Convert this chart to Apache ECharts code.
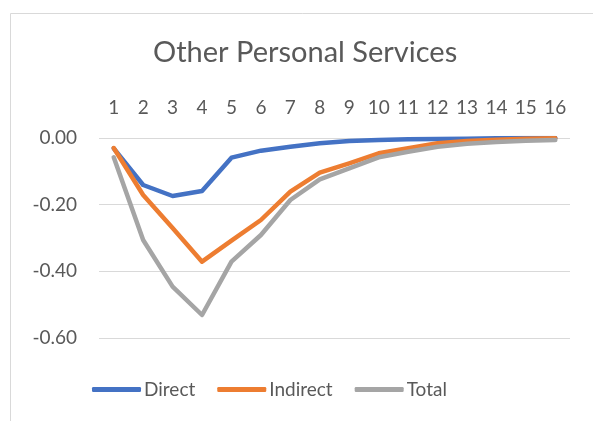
<!DOCTYPE html>
<html>
<head>
<meta charset="utf-8">
<script src="https://cdn.jsdelivr.net/npm/echarts@6/dist/echarts.min.js"></script>
<style>
  html, body { margin: 0; padding: 0; background: #fff; }
  #main { width: 593px; height: 421px; }
</style>
</head>
<body>
<div id="main"></div>
<script>
// periods 1..16
const periods = ['1', '2', '3', '4', '5', '6', '7', '8', '9', '10', '11', '12', '13', '14', '15', '16'];
const direct = [-0.031, -0.141, -0.174, -0.159, -0.059, -0.038, -0.026, -0.016, -0.009, -0.006, -0.004, -0.003, -0.002, -0.001, 0, 0];
const indirect = [-0.03, -0.171, -0.27, -0.371, -0.308, -0.246, -0.161, -0.104, -0.076, -0.046, -0.031, -0.016, -0.009, -0.005, -0.002, -0.001];
const total = [-0.058, -0.306, -0.446, -0.531, -0.371, -0.291, -0.186, -0.124, -0.091, -0.058, -0.041, -0.026, -0.017, -0.012, -0.008, -0.006];

const font = 'Lato';
const textColor = '#595959';

const chart = echarts.init(document.getElementById('main'));

function lineSeries(name, data, color) {
  return {
    name: name,
    type: 'line',
    data: data,
    showSymbol: false,
    symbol: 'none',
    lineStyle: { width: 4.5, color: color, cap: 'round', join: 'round' },
    itemStyle: { color: color }
  };
}

chart.setOption({
  animation: false,
  // outer chart border (cut off on the right and bottom)
  graphic: [{
    type: 'rect',
    shape: { x: 10.5, y: 13.5, width: 700, height: 500 },
    style: { fill: 'none', stroke: '#D9D9D9', lineWidth: 1 },
    silent: true
  }],
  title: {
    text: 'Other Personal Services',
    left: 153,
    top: 38,
    padding: 0,
    textStyle: { fontFamily: font, fontSize: 29, fontWeight: 'normal', color: textColor }
  },
  legend: {
    bottom: 22,
    left: 92,
    padding: 0,
    icon: 'roundRect',
    itemWidth: 49,
    itemHeight: 5,
    itemGap: 22,
    textStyle: { fontFamily: font, fontSize: 19, color: textColor, padding: [0, 0, 0, -2] },
    data: ['Direct', 'Indirect', 'Total']
  },
  grid: { left: 99, right: 23, top: 138, bottom: 83 },
  xAxis: {
    type: 'category',
    position: 'top',
    data: periods,
    boundaryGap: true,
    axisLine: { show: false },
    axisTick: { show: false },
    axisLabel: { margin: 21, fontFamily: font, fontSize: 19, color: textColor }
  },
  yAxis: {
    type: 'value',
    min: -0.6,
    max: 0,
    interval: 0.2,
    axisLine: { show: false },
    axisTick: { show: false },
    splitLine: { lineStyle: { color: '#D9D9D9', width: 1 } },
    axisLabel: {
      margin: 22,
      fontFamily: font,
      fontSize: 19,
      color: textColor,
      formatter: v => v.toFixed(2)
    }
  },
  series: [
    lineSeries('Direct', direct, '#4472C4'),
    lineSeries('Indirect', indirect, '#ED7D31'),
    lineSeries('Total', total, '#A5A5A5')
  ]
});
</script>
</body>
</html>
